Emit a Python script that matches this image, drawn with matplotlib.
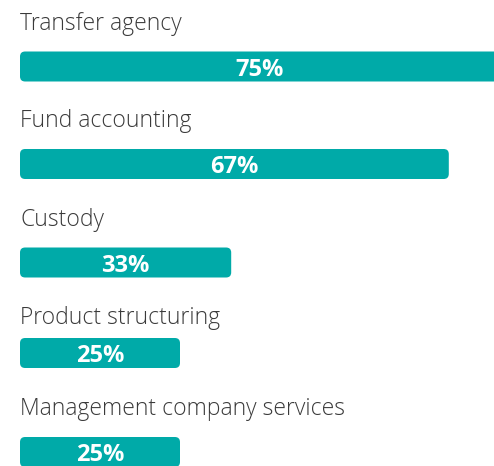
import matplotlib
matplotlib.use("Agg")
import matplotlib.pyplot as plt
from matplotlib.patches import FancyBboxPatch

# data
categories = ["Transfer agency", "Fund accounting", "Custody",
              "Product structuring", "Management company services"]
values = [75, 67, 33, 25, 25]

# layout (pixels, top-down)
label_base = [30, 127, 226, 324, 415]
bar_y = [66.5, 164, 262.5, 353, 452]
BAR_H = 30
PX_PER_PCT = 6.4
LEFT_PX = 20
W, H = 494, 466
TEAL = "#00aaa8"
TEXT = "#3a3a3a"

plt.rcParams['font.family'] = ['Open Sans', 'DejaVu Sans']

fig = plt.figure(figsize=(W / 100, H / 100), dpi=100)
ax = fig.add_axes([0, 0, 1, 1])
ax.set_xlim(-LEFT_PX / PX_PER_PCT, (W - LEFT_PX) / PX_PER_PCT)
ax.set_ylim(H, 0)
ax.axis("off")

for name, val, ly, by in zip(categories, values, label_base, bar_y):
    ax.text(0, ly, name, ha="left", va="baseline", fontsize=16.5,
            fontweight="light", color=TEXT)
    box = FancyBboxPatch((0, by - BAR_H / 2), val, BAR_H,
                         boxstyle="round,pad=0,rounding_size=0.8",
                         mutation_aspect=PX_PER_PCT,
                         facecolor=TEAL, edgecolor="none")
    ax.add_patch(box)
    ax.text(val / 2, by + 9, f"{val}%", ha="center", va="baseline",
            fontsize=17, fontweight="bold", color="white")

fig.savefig("out.png", dpi=100, facecolor="white")
